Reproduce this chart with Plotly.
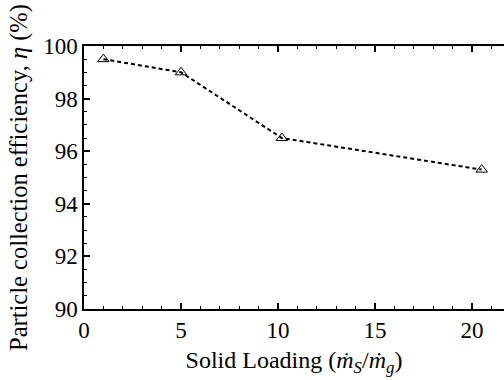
import plotly.graph_objects as go

solid_loading = [1, 5, 10.2, 20.5]
efficiency = [99.5, 99.0, 96.5, 95.3]
x_ticks = [0, 5, 10, 15, 20]
y_ticks = [90, 92, 94, 96, 98, 100]

font_family = "Liberation Serif, Times New Roman, serif"

fig = go.Figure()
fig.add_trace(go.Scatter(
    x=solid_loading, y=efficiency, mode="lines+markers",
    line=dict(color="black", width=2, dash="4px,3px"),
    marker=dict(symbol="triangle-up-open", size=10, color="black", line=dict(width=1)),
    showlegend=False,
))

fig.update_layout(
    width=504, height=380,
    margin=dict(l=84, r=0, t=46, b=71),
    paper_bgcolor="white", plot_bgcolor="white",
    font=dict(family=font_family, size=23, color="black"),
    xaxis=dict(
        range=[0, 21.65], tickvals=x_ticks, ticks="inside", ticklen=6, tickwidth=1.5,
        tickcolor="black", showline=True, linecolor="black", linewidth=1.5,
        mirror="ticks", showgrid=False, zeroline=False,
        minor=dict(dtick=1, ticks="inside", ticklen=3, tickcolor="black", tickwidth=1),
        tickfont=dict(family=font_family, size=23),
        title=dict(text="Solid Loading (<i>ṁ</i><sub><i>S</i></sub>/<i>ṁ</i><sub><i>g</i></sub>)",
                   font=dict(family=font_family, size=24), standoff=9),
    ),
    yaxis=dict(
        range=[90, 100], tickvals=y_ticks, ticks="inside", ticklen=6, tickwidth=1.5,
        tickcolor="black", showline=True, linecolor="black", linewidth=1.5,
        mirror=False, showgrid=False, zeroline=False,
        minor=dict(dtick=0.5, ticks="inside", ticklen=3, tickcolor="black", tickwidth=1),
        tickfont=dict(family=font_family, size=23),
        title=dict(text="Particle collection efficiency, <i>η</i> (%)",
                   font=dict(family=font_family, size=24.5), standoff=9),
    ),
)

fig.write_html("out.html")
